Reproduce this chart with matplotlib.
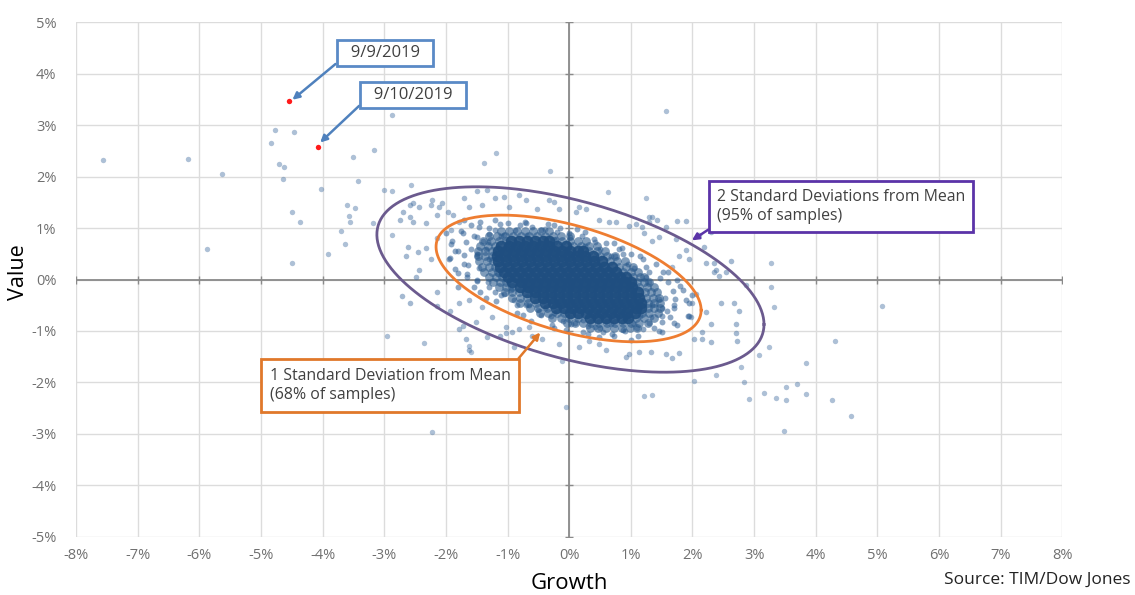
import numpy as np
import matplotlib.pyplot as plt

plt.rcParams['font.family'] = ['Open Sans', 'DejaVu Sans']

# daily returns, % (growth, value)
sparse_pts = np.array([
    (-7.56, 2.33), (-6.19, 2.34), (-5.64, 2.04), (-5.88, 0.60), (-4.78, 2.91), (-4.47, 2.87),
    (-4.83, 2.66), (-4.71, 2.25), (-4.62, 2.19), (-4.65, 1.96), (-4.03, 1.76), (-4.49, 1.32),
    (-4.37, 1.12), (-4.49, 0.33), (-3.92, 0.50), (-3.64, 0.68), (-3.71, 0.95), (-3.60, 1.45),
    (-3.47, 1.38), (-3.58, 1.24), (-3.55, 1.12), (-3.51, 2.38), (-3.16, 2.52), (-3.43, 1.92),
    (-3.19, 1.09), (-2.87, 3.20), (-1.18, 2.46), (-1.38, 2.27), (-0.31, 2.11), (1.57, 3.28),
    (0.63, 1.69), (1.24, 1.59), (-2.56, 1.84), (-2.87, 0.87), (3.27, 0.33), (3.27, -0.14),
    (3.32, -0.54), (5.07, -0.52), (4.31, -1.20), (3.24, -1.32), (3.84, -1.63), (3.08, -1.47),
    (3.69, -2.02), (3.51, -2.08), (3.16, -2.21), (3.35, -2.31), (3.51, -2.34), (3.84, -2.23),
    (4.26, -2.34), (4.57, -2.66), (3.48, -2.95), (-2.22, -2.96), (-1.81, -2.07), (-0.05, -2.48),
    (1.34, -2.25), (2.02, -1.98), (2.38, -1.86), (2.79, -1.69), (2.83, -2.00), (2.91, -2.33),
    (-2.35, -1.24), (-1.62, -1.30), (-1.59, -1.40), (-2.96, -1.10), (-3.00, 1.74), (-2.88, 1.71),
    (1.21, -2.27), (-0.11, -1.59),
])

outer_ring_pts = np.array([
    (2.46, -0.45), (2.67, -0.45), (2.75, -0.62), (2.70, -0.87), (2.70, -1.03), (2.72, -1.20),
    (2.30, -0.87), (2.22, -0.64), (2.15, -1.01), (2.02, -1.16), (2.15, -1.16), (2.30, -1.22),
    (1.57, -1.45), (1.67, -1.53), (1.78, -1.43), (1.33, -1.40), (2.43, 0.06), (2.35, 0.14),
    (2.87, -0.10), (1.75, 1.14), (1.89, 1.14), (1.35, 1.22), (1.30, 1.12), (2.30, 0.93),
    (2.62, 0.35), (2.35, 0.33), (-2.59, 1.45), (-2.54, 1.49), (-2.43, 1.40), (-2.70, 1.32),
    (-2.59, 1.22), (-2.22, 1.55), (-2.24, 1.45), (-2.11, 1.41), (-2.06, 1.49), (-1.97, 1.32),
    (-1.89, 1.26), (-2.14, 1.26), (-2.54, 1.12), (-2.32, 1.10), (-2.75, 1.16), (-1.70, 1.59),
    (-1.49, 1.71), (-1.34, 1.74), (-1.21, 1.59), (-1.41, 1.45), (-1.62, 1.40), (-1.78, 1.12),
    (-1.91, 0.97), (-2.62, 0.64), (-2.46, 0.54), (-2.64, 0.45), (-2.32, 0.62), (-2.15, 0.81),
    (-2.24, 0.39), (-2.43, 0.19), (-2.48, 0.04), (-2.72, -0.33), (-2.14, -0.25), (-1.67, -1.16),
    (-1.62, -1.36), (-1.78, -0.97), (-1.73, -0.91), (-1.51, -0.83), (-1.33, -1.12), (-1.13, -1.10),
    (-1.02, -1.03), (-2.59, -0.45), (-2.15, -0.52), (-1.94, -0.62), (-1.78, -0.45), (-1.62, -0.39),
    (-1.41, -0.54), (-1.25, -0.72), (-1.02, -0.93), (-0.92, -1.01), (-0.81, -0.97), (-0.65, -0.93),
    (-0.60, -1.10), (-0.89, -1.32), (-0.44, -1.16), (-0.16, -1.26), (0.16, -1.32), (0.49, -1.26),
    (0.60, -1.36), (0.92, -1.51), (0.97, -1.45), (1.13, -1.41), (0.32, -1.20), (-1.05, 1.61),
    (-0.81, 1.65), (-0.70, 1.55), (-0.32, 1.55), (-0.24, 1.51), (-0.16, 1.36), (0.11, 1.32),
    (0.16, 1.40), (0.28, 1.36), (0.49, 1.16), (0.65, 1.12), (0.76, 1.12), (0.97, 1.03),
    (1.08, 1.07), (1.18, 1.01), (-0.53, 1.36), (-0.97, 1.41), (1.30, 1.22), (1.43, 1.16),
    (1.57, 1.01), (1.21, 0.91), (1.46, 0.83), (1.73, 0.78), (1.89, 0.58), (1.78, 0.45),
    (1.94, 0.39), (1.67, 0.25), (1.34, 0.74), (2.19, 0.64), (2.22, 0.33), (2.38, 0.19),
    (2.54, 0.14), (2.11, 0.87), (1.99, -0.45), (1.97, -0.72), (2.05, -0.29),
])

inner_ring_pts = np.array([
    (-1.90, 0.75), (-1.75, 0.95), (-1.60, 1.05), (-1.45, 1.12), (-1.30, 1.00), (-1.55, 0.85),
    (-1.80, 0.55), (-1.95, 0.40), (-1.70, 0.30), (-1.60, 0.60), (-1.40, 0.75), (-1.20, 1.15),
    (-1.00, 1.10), (-0.80, 1.05), (-0.60, 1.02), (-0.40, 0.98), (-0.20, 0.92), (0.00, 0.90),
    (0.20, 0.85), (0.40, 0.78), (0.60, 0.70), (0.80, 0.60), (1.00, 0.50), (1.20, 0.40),
    (1.40, 0.30), (1.60, 0.15), (1.75, 0.00), (1.85, -0.20), (1.90, -0.40), (1.70, -0.55),
    (1.50, -0.70), (1.30, -0.85), (1.10, -0.95), (0.90, -1.00), (0.70, -1.05), (0.50, -0.95),
    (0.30, -0.90), (0.10, -0.85), (-0.10, -0.80), (-0.30, -0.70), (-0.50, -0.60), (-0.70, -0.50),
    (-0.90, -0.40), (-1.10, -0.30), (-1.30, -0.15), (-1.50, 0.00), (-1.65, 0.10), (-1.85, 0.20),
    (-1.30, 0.40), (-1.50, 0.45), (-1.10, 0.85), (1.55, -0.35), (1.35, -0.50), (1.60, -0.05),
    (1.30, 0.15), (1.15, -0.70), (0.95, -0.75), (0.60, -0.80), (-0.40, -0.55), (-0.95, -0.20),
    (-1.15, 0.10), (0.75, 0.45), (0.50, 0.60), (0.95, 0.30), (-0.15, 1.00), (-0.70, 1.10),
    (-1.35, 0.60), (1.95, -0.70), (1.70, -0.85), (2.00, -0.30), (-2.00, 0.90), (-1.70, 1.15),
    (1.45, -1.00), (0.30, -1.05), (-0.25, -0.95), (-0.85, -0.65), (-1.35, -0.35), (-1.80, -0.15),
    (1.70, -0.50), (1.68, -0.22), (1.47, 0.03), (1.24, 0.24), (0.88, 0.50), (0.42, 0.72),
    (0.02, 0.83), (-0.46, 0.97), (-0.88, 0.96), (-1.20, 0.97), (-1.50, 0.83), (-1.68, 0.72),
    (-1.70, 0.48), (-1.64, 0.28), (-1.50, -0.02), (-1.20, -0.24), (-0.84, -0.50), (-0.46, -0.68),
    (0.03, -0.86), (0.42, -0.93), (0.88, -0.98), (1.20, -0.96), (1.50, -0.83), (1.64, -0.72),
    (1.95, -0.45), (1.80, -0.12), (1.52, 0.15), (1.15, 0.45), (0.72, 0.70), (0.25, 0.92),
    (-0.25, 1.05), (-0.72, 1.12), (-1.12, 1.08), (-1.47, 1.02), (-1.73, 0.90), (-1.92, 0.68),
    (-1.93, 0.42), (-1.80, 0.12), (-1.55, -0.15), (-1.18, -0.42), (-0.75, -0.68), (-0.28, -0.88),
    (0.22, -1.02), (0.72, -1.10), (1.12, -1.10), (1.50, -1.02), (1.75, -0.88), (1.93, -0.70),
    (1.45, -0.38), (1.30, -0.05), (1.05, 0.22), (0.68, 0.46), (0.25, 0.66), (-0.22, 0.78),
    (-0.68, 0.86), (-1.05, 0.86), (-1.32, 0.72), (-1.50, 0.50), (-1.47, 0.22), (-1.32, -0.05),
    (-1.05, -0.28), (-0.66, -0.50), (-0.25, -0.66), (0.22, -0.78), (0.68, -0.86), (1.05, -0.86),
    (1.33, -0.72), (1.50, -0.55), (1.58, -0.62), (1.38, -0.95), (0.55, -1.02), (-0.05, -0.98),
    (-0.62, -0.80), (-1.45, -0.25), (-1.65, 0.05), (-1.85, 0.55), (-1.30, 0.88), (-0.35, 1.08),
    (0.12, 0.98), (0.85, 0.62), (1.25, 0.05), (1.72, -0.38), (1.00, -1.18), (0.48, -1.12),
])

# dense centre of the cloud, one row per value level
core_rows = {
    0.75: [-0.95, -0.82, -0.69, -0.56, -0.43, -0.32],
    0.65: [-1.10, -0.97, -0.84, -0.71, -0.58, -0.45, -0.32, -0.19, -0.06],
    0.55: [-1.16, -1.03, -0.90, -0.77, -0.64, -0.51, -0.38, -0.25, -0.12, 0.01, 0.14, 0.22],
    0.45: [-1.17, -1.04, -0.91, -0.78, -0.65, -0.52, -0.39, -0.26, -0.13, 0.00, 0.13, 0.26, 0.39],
    0.35: [-1.15, -1.02, -0.89, -0.76, -0.63, -0.50, -0.37, -0.24, -0.11, 0.02, 0.15, 0.28, 0.41,
           0.54],
    0.25: [-1.12, -0.99, -0.86, -0.73, -0.60, -0.47, -0.34, -0.21, -0.08, 0.05, 0.18, 0.31, 0.44,
           0.57, 0.69],
    0.15: [-1.06, -0.93, -0.80, -0.67, -0.54, -0.41, -0.28, -0.15, -0.02, 0.11, 0.24, 0.37, 0.50,
           0.63, 0.76],
    0.05: [-0.99, -0.86, -0.73, -0.60, -0.47, -0.34, -0.21, -0.08, 0.05, 0.18, 0.31, 0.44, 0.57,
           0.70, 0.83, 0.92],
    -0.05: [-0.92, -0.79, -0.66, -0.53, -0.40, -0.27, -0.14, -0.01, 0.12, 0.25, 0.38, 0.51, 0.64,
            0.77, 0.90, 1.00],
    -0.15: [-0.80, -0.67, -0.54, -0.41, -0.28, -0.15, -0.02, 0.11, 0.24, 0.37, 0.50, 0.63, 0.76,
            0.89, 1.02],
    -0.25: [-0.69, -0.56, -0.43, -0.30, -0.17, -0.04, 0.09, 0.22, 0.35, 0.48, 0.61, 0.74, 0.87,
            1.00, 1.12],
    -0.35: [-0.55, -0.42, -0.29, -0.16, -0.03, 0.10, 0.23, 0.36, 0.49, 0.62, 0.75, 0.88, 1.01, 1.14],
    -0.45: [-0.40, -0.27, -0.14, -0.01, 0.12, 0.25, 0.38, 0.51, 0.64, 0.77, 0.90, 1.03, 1.16],
    -0.55: [-0.21, -0.08, 0.05, 0.18, 0.31, 0.44, 0.57, 0.70, 0.83, 0.96, 1.09, 1.16],
    -0.65: [0.02, 0.15, 0.28, 0.41, 0.54, 0.67, 0.80, 0.93, 1.06],
    -0.75: [0.33, 0.46, 0.59, 0.72, 0.85, 0.96],
}

# fringe around the dense centre
core_edge_rows = {
    0.95: [-1.10, -0.97, -0.84, -0.71, -0.58, -0.45, -0.33],
    0.85: [-1.30, -1.17, -1.04, -0.91, -0.78, -0.65, -0.52, -0.39, -0.26, -0.13, 0.02],
    0.75: [-1.40, -1.27, -1.14, -1.02, -0.25, -0.12, 0.01, 0.14, 0.27],
    0.65: [-1.45, -1.32, -1.20, 0.06, 0.19, 0.32, 0.45],
    0.55: [-1.48, -1.36, -1.25, 0.32, 0.45, 0.58],
    0.45: [-1.48, -1.36, -1.26, 0.50, 0.62, 0.75],
    0.35: [-1.46, -1.34, -1.24, 0.66, 0.78, 0.90],
    0.25: [-1.42, -1.30, -1.21, 0.80, 0.92, 1.03],
    0.15: [-1.38, -1.26, -1.16, 0.88, 1.00, 1.12],
    0.05: [-1.30, -1.18, -1.09, 1.03, 1.15, 1.22],
    -0.05: [-1.23, -1.12, -1.03, 1.10, 1.21, 1.30],
    -0.15: [-1.14, -1.03, -0.92, 1.14, 1.26, 1.37],
    -0.25: [-1.04, -0.92, -0.81, 1.23, 1.33, 1.42],
    -0.35: [-0.92, -0.80, -0.68, 1.25, 1.36, 1.45],
    -0.45: [-0.80, -0.67, -0.54, 1.28, 1.38, 1.47],
    -0.55: [-0.64, -0.51, -0.36, 1.28, 1.38, 1.47],
    -0.65: [-0.48, -0.34, -0.20, -0.08, 1.18, 1.30, 1.44],
    -0.75: [-0.28, -0.14, 0.00, 0.15, 1.08, 1.22, 1.38],
    -0.85: [-0.03, 0.10, 0.23, 0.36, 0.49, 0.62, 0.75, 0.88, 1.01, 1.14, 1.28],
    -0.95: [0.33, 0.46, 0.59, 0.72, 0.85, 0.98, 1.10],
}

marked_dates = ['9/9/2019', '9/10/2019']
marked_growth = [-4.55, -4.08]
marked_value = [3.47, 2.58]

# ellipse outlines: centre, half-width, half-height, phase lag
sd2 = (0.02, 0.00, 3.14, 1.80, np.deg2rad(119.0))
sd1 = (-0.01, 0.02, 2.15, 1.23, np.deg2rad(120.0))

ticks_x = np.arange(-8, 9)
ticks_y = np.arange(-5, 6)

fig = plt.figure(figsize=(11.35, 5.95), dpi=100)
ax = fig.add_axes([0.067, 0.0975, 0.869, 0.8655])
ax.set_xlim(-8, 8)
ax.set_ylim(-5, 5)
for s in ax.spines.values():
    s.set_visible(False)
ax.set_xticks(ticks_x)
ax.set_yticks(ticks_y)
ax.set_xticklabels([f'{v}%' for v in ticks_x])
ax.set_yticklabels([f'{v}%' for v in ticks_y])
ax.tick_params(length=0, labelsize=10.5, labelcolor='#707070')
ax.tick_params(axis='x', pad=8)
ax.tick_params(axis='y', pad=14)
ax.grid(True, color='#dcdcdc', lw=1.0)
ax.set_axisbelow(True)
ax.axhline(0, color='#8a8a8a', lw=1.3, zorder=1)
ax.axvline(0, color='#8a8a8a', lw=1.3, zorder=1)
ax.plot(np.zeros(len(ticks_y)), ticks_y, ls='none', marker='_', ms=6, color='#8a8a8a', zorder=1)
ax.plot(ticks_x, np.zeros(len(ticks_x)), ls='none', marker='|', ms=6, color='#8a8a8a', zorder=1)

dot = '#4a74a4'
ax.scatter(sparse_pts[:, 0], sparse_pts[:, 1], s=15, color=dot, alpha=0.45, lw=0, zorder=2)
ax.scatter(outer_ring_pts[:, 0], outer_ring_pts[:, 1], s=16, color=dot, alpha=0.5, lw=0, zorder=2)
ax.scatter(inner_ring_pts[:, 0], inner_ring_pts[:, 1], s=18, color='#2f5f95', alpha=0.55, lw=0,
           zorder=2)
for yv, xs in core_edge_rows.items():
    ax.scatter(xs, [yv] * len(xs), s=40, color='#2a5a8c', alpha=0.6, lw=0, zorder=2)
for yv, xs in core_rows.items():
    ax.scatter(xs, [yv] * len(xs), s=70, color='#1f4e80', alpha=0.92, lw=0, zorder=2)
ax.scatter(marked_growth, marked_value, s=15, color='#ff1a1a', lw=0, zorder=3)

t = np.linspace(0, 2 * np.pi, 300)
for (cx, cy, a, b, lag), col in [(sd2, '#6b5a8e'), (sd1, '#ee7d31')]:
    ax.plot(cx + a * np.cos(t), cy + b * np.cos(t - lag), color=col, lw=2, zorder=4)

# callouts
date_kw = dict(fontsize=12, color='#404040', zorder=6, ha='center', va='center')
note_kw = dict(fontsize=11.4, color='#404040', zorder=6, ha='left', va='center', linespacing=1.25)
ax.annotate('  ' + marked_dates[0] + '  ', xy=(marked_growth[0] + 0.06, marked_value[0] + 0.02),
            xytext=(-2.99, 4.39),
            bbox=dict(boxstyle='square,pad=0.3', fc='white', ec='#5a8ac6', lw=2),
            arrowprops=dict(arrowstyle='-|>', color='#4f81bd', lw=1.8, mutation_scale=10,
                            shrinkA=0, shrinkB=0, relpos=(0, 0.15)), **date_kw)
ax.annotate('  ' + marked_dates[1] + '  ', xy=(marked_growth[1] + 0.04, marked_value[1] + 0.08),
            xytext=(-2.53, 3.59),
            bbox=dict(boxstyle='square,pad=0.3', fc='white', ec='#5a8ac6', lw=2),
            arrowprops=dict(arrowstyle='-|>', color='#4f81bd', lw=1.8, mutation_scale=10,
                            shrinkA=0, shrinkB=0, relpos=(0, 0.15)), **date_kw)
ax.annotate('2 Standard Deviations from Mean\n(95% of samples)', xy=(1.99, 0.76),
            xytext=(2.40, 1.42),
            bbox=dict(boxstyle='square,pad=0.5', fc='white', ec='#5b33a8', lw=2),
            arrowprops=dict(arrowstyle='-|>', color='#5b33a8', lw=1.8, mutation_scale=10,
                            shrinkA=0, shrinkB=0, relpos=(0, 0)), **note_kw)
ax.annotate('1 Standard Deviation from Mean\n(68% of samples)', xy=(-0.47, -1.03),
            xytext=(-4.86, -2.06),
            bbox=dict(boxstyle='square,pad=0.55', fc='white', ec='#e0782a', lw=2),
            arrowprops=dict(arrowstyle='-|>', color='#e0782a', lw=1.8, mutation_scale=10,
                            shrinkA=0, shrinkB=0, relpos=(1, 1)), **note_kw)

fig.text(0.016, 0.543, 'Value', rotation=90, fontsize=15.5, va='center', ha='center')
fig.text(0.502, 0.002, 'Growth', fontsize=16, va='bottom', ha='center')
fig.text(0.996, 0.012, 'Source: TIM/Dow Jones', fontsize=12.5, va='bottom', ha='right',
         color='#222222')

fig.savefig('out.png', dpi=100)
